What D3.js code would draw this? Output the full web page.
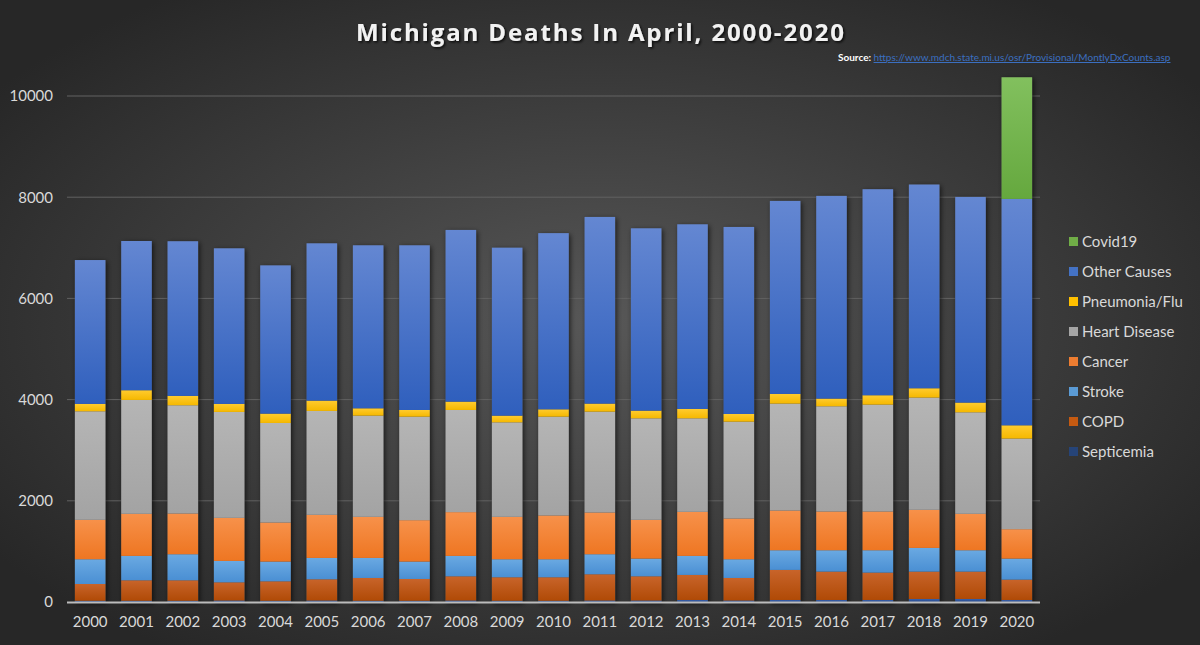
<!DOCTYPE html>
<html>
<head>
<meta charset="utf-8">
<script src="https://cdn.jsdelivr.net/npm/d3@7"></script>
<style>
  html, body { margin: 0; padding: 0; background: #333; }
  svg { display: block; }
</style>
</head>
<body>
<svg id="chart" width="1200" height="645"></svg>
<script>
// ---- Data ----
const years = ["2000","2001","2002","2003","2004","2005","2006","2007","2008","2009","2010",
               "2011","2012","2013","2014","2015","2016","2017","2018","2019","2020"];
const septicemia   = [25,25,25,30,25,30,25,25,30,25,25,30,30,40,30,40,40,40,60,60,40];
const copd         = [331,404,404,359,384,419,450,430,478,464,464,518,478,495,445,594,561,541,541,541,402];
const stroke       = [489,482,515,423,390,422,396,344,403,356,356,396,350,376,370,389,422,442,468,422,416];
const cancer       = [779,832,805,851,772,852,812,818,865,838,865,825,766,871,805,785,766,766,753,720,581];
const heartDisease = [2145,2250,2139,2093,1967,2053,2000,2046,2019,1868,1953,1993,2006,1848,1914,2113,2079,2112,2218,2006,1791];
const pneumoniaFlu = [146,192,185,159,185,204,145,132,165,132,145,159,152,185,152,191,152,185,184,192,262];
const otherCauses  = [2843,2950,3057,3075,2930,3109,3222,3255,3393,3320,3482,3689,3604,3650,3696,3815,4006,4072,4027,4065,4474];
const covid19      = [0,0,0,0,0,0,0,0,0,0,0,0,0,0,0,0,0,0,0,0,2404];
const yTicks = [0,2000,4000,6000,8000,10000];

const seriesKeys = ["Septicemia","COPD","Stroke","Cancer","Heart Disease","Pneumonia/Flu","Other Causes","Covid19"];
const seriesValues = [septicemia, copd, stroke, cancer, heartDisease, pneumoniaFlu, otherCauses, covid19];
const colors = {
  "Septicemia":   ["#3a5fa8", "#254a8c"],
  "COPD":         ["#c8642a", "#b04a06"],
  "Stroke":       ["#6aa9e2", "#4a8fd3"],
  "Cancer":       ["#f7914a", "#ee7622"],
  "Heart Disease":["#b5b5b5", "#a3a3a3"],
  "Pneumonia/Flu":["#ffcb2e", "#f5b800"],
  "Other Causes": ["#6487d2", "#2f5fbd"],
  "Covid19":      ["#82c05e", "#65a83e"]
};
const legendColor = {
  "Covid19":"#70ad47","Other Causes":"#4472c4","Pneumonia/Flu":"#ffc000","Heart Disease":"#a5a5a5",
  "Cancer":"#ed7d31","Stroke":"#5b9bd5","COPD":"#c55a11","Septicemia":"#264478"
};

const table = years.map((yr, i) => {
  const row = { year: yr };
  seriesKeys.forEach((k, j) => row[k] = seriesValues[j][i]);
  return row;
});

// ---- Layout ----
const svg = d3.select("#chart");
const W = 1200, H = 645;
const defs = svg.append("defs");

const bg = defs.append("radialGradient").attr("id", "bg")
  .attr("cx", "50%").attr("cy", "50%").attr("r", "62%");
bg.append("stop").attr("offset", "0%").attr("stop-color", "#575757");
bg.append("stop").attr("offset", "100%").attr("stop-color", "#272727");

seriesKeys.forEach((k, i) => {
  const g = defs.append("linearGradient").attr("id", "g" + i)
    .attr("x1", 0).attr("y1", 0).attr("x2", 0).attr("y2", 1);
  g.append("stop").attr("offset", "0%").attr("stop-color", colors[k][0]);
  g.append("stop").attr("offset", "100%").attr("stop-color", colors[k][1]);
});

const sh = defs.append("filter").attr("id", "shadow")
  .attr("x", "-30%").attr("y", "-10%").attr("width", "160%").attr("height", "120%");
sh.append("feDropShadow").attr("dx", 1.5).attr("dy", 1.5).attr("stdDeviation", 2.5)
  .attr("flood-color", "#000").attr("flood-opacity", 0.65);

const tsh = defs.append("filter").attr("id", "tshadow")
  .attr("x", "-5%").attr("y", "-30%").attr("width", "110%").attr("height", "160%");
tsh.append("feDropShadow").attr("dx", 1.5).attr("dy", 1.5).attr("stdDeviation", 1.2)
  .attr("flood-color", "#000").attr("flood-opacity", 0.8);

svg.append("rect").attr("width", W).attr("height", H).attr("fill", "url(#bg)");

const x = d3.scaleBand().domain(years).range([67, 1040]).paddingInner(0.34).paddingOuter(0.17);
const y = d3.scaleLinear().domain([0, 10000]).range([602, 96]);

// gridlines
svg.append("g").selectAll("line").data(yTicks.filter(t => t > 0)).join("line")
  .attr("x1", 67).attr("x2", 1040)
  .attr("y1", d => y(d)).attr("y2", d => y(d))
  .attr("stroke", "#626262").attr("stroke-width", 1);

// y axis labels
const yAxis = d3.axisLeft(y).tickValues(yTicks).tickSize(0).tickPadding(0).tickFormat(d3.format("d"));
const yg = svg.append("g").attr("transform", "translate(53,0)").call(yAxis);
yg.select(".domain").remove();
yg.selectAll("text").attr("fill", "#d9d9d9").attr("font-family", "Lato, 'Open Sans', sans-serif")
  .attr("font-size", 15);

// stacked data
const stacked = d3.stack().keys(seriesKeys)(table);
const totals = table.map(r => d3.sum(seriesKeys, k => r[k]));

// shadow bodies
svg.append("g").selectAll("rect").data(years).join("rect")
  .attr("x", d => x(d)).attr("width", x.bandwidth())
  .attr("y", (d, i) => y(totals[i])).attr("height", (d, i) => y(0) - y(totals[i]))
  .attr("fill", "#444").attr("filter", "url(#shadow)");

// segments
svg.append("g").selectAll("g").data(stacked).join("g")
  .attr("fill", (d, i) => "url(#g" + i + ")")
  .selectAll("rect").data(d => d.filter(s => s[1] - s[0] > 0)).join("rect")
  .attr("x", d => x(d.data.year)).attr("width", x.bandwidth())
  .attr("y", d => y(d[1])).attr("height", d => y(d[0]) - y(d[1]));

// baseline axis
svg.append("line").attr("x1", 67).attr("x2", 1040).attr("y1", y(0) + 0.5).attr("y2", y(0) + 0.5)
  .attr("stroke", "#bcbcbc").attr("stroke-width", 2);

// x axis labels
const xAxis = d3.axisBottom(x).tickSize(0).tickPadding(0);
const xg = svg.append("g").attr("transform", "translate(0,616)").call(xAxis);
xg.select(".domain").remove();
xg.selectAll("text").attr("fill", "#d9d9d9").attr("font-family", "Lato, 'Open Sans', sans-serif")
  .attr("font-size", 15).attr("dy", "0.75em");

// title
svg.append("text").attr("x", 600).attr("y", 41).attr("text-anchor", "middle")
  .attr("font-family", "'Open Sans', sans-serif").attr("font-weight", 700).attr("font-size", 24)
  .attr("fill", "#f2f2f2").attr("filter", "url(#tshadow)")
  .attr("textLength", 488).attr("lengthAdjust", "spacing")
  .text("Michigan Deaths In April, 2000-2020");

// source
const src = svg.append("text").attr("x", 838).attr("y", 61)
  .attr("font-family", "Lato, 'Open Sans', sans-serif").attr("font-size", 10);
src.append("tspan").attr("fill", "#ffffff").attr("font-weight", 700).text("Source: ");
src.append("tspan").attr("fill", "#3b6fc0").attr("text-decoration", "underline")
  .text("https://www.mdch.state.mi.us/osr/Provisional/MontlyDxCounts.asp");

// legend
const legendKeys = seriesKeys.slice().reverse();
const lg = svg.append("g").selectAll("g").data(legendKeys).join("g")
  .attr("transform", (d, i) => `translate(1069,${242 + i * 30})`);
lg.append("rect").attr("x", 0).attr("y", -5).attr("width", 9).attr("height", 9)
  .attr("fill", d => legendColor[d]);
lg.append("text").attr("x", 13).attr("y", 0).attr("dy", "0.35em")
  .attr("fill", "#d9d9d9").attr("font-family", "Lato, 'Open Sans', sans-serif").attr("font-size", 15)
  .text(d => d);
</script>
</body>
</html>
